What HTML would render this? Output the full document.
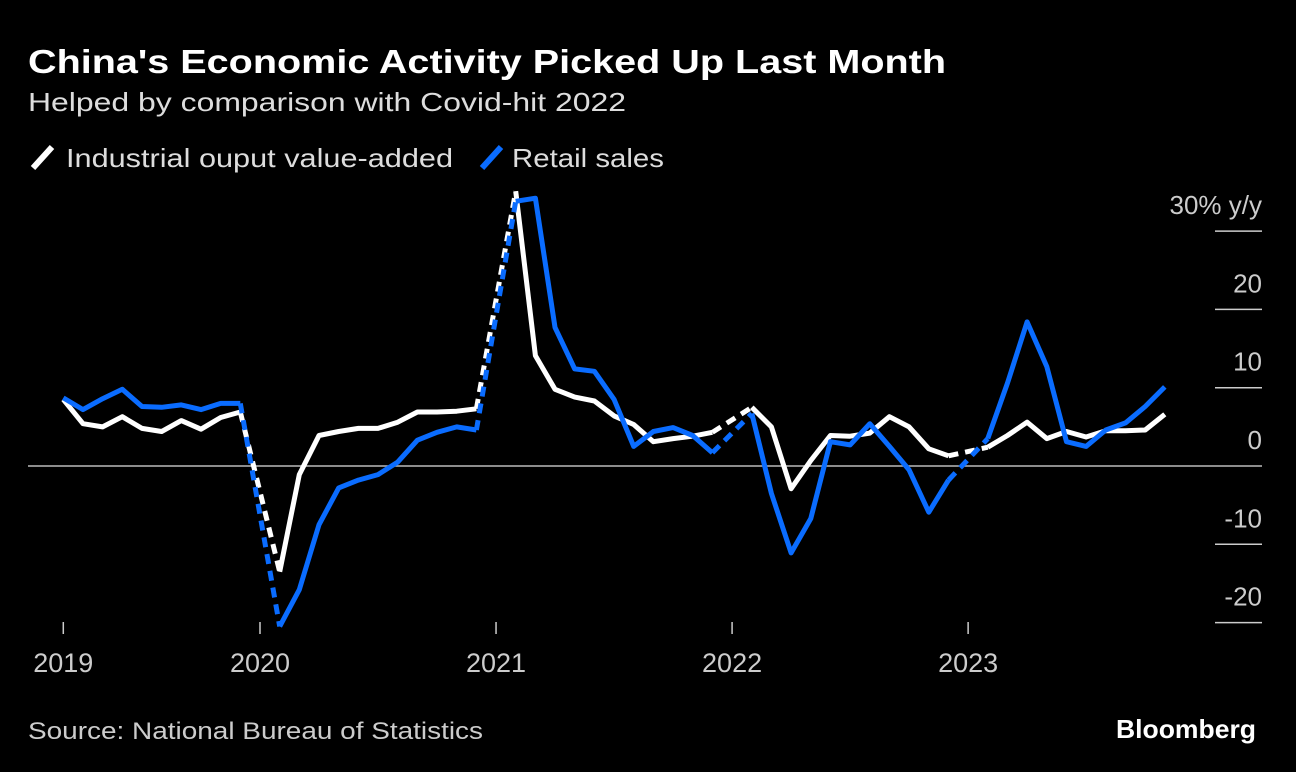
<!DOCTYPE html>
<html><head><meta charset="utf-8"><style>
body{margin:0;background:#000;}
svg{display:block;font-family:"Liberation Sans",sans-serif;}
</style></head><body>
<svg id="chart" width="1296" height="772" viewBox="0 0 1296 772">
<rect width="1296" height="772" fill="#000"/>
<text x="28" y="73" fill="#fff" font-size="33" font-weight="bold" textLength="918" lengthAdjust="spacingAndGlyphs">China's Economic Activity Picked Up Last Month</text>
<text x="28" y="111" fill="#ddd" font-size="26" textLength="598" lengthAdjust="spacingAndGlyphs">Helped by comparison with Covid-hit 2022</text>
<g>
<line x1="33" y1="168" x2="52" y2="147" stroke="#fff" stroke-width="6"/>
<text x="66" y="167" fill="#ddd" font-size="26" textLength="387" lengthAdjust="spacingAndGlyphs">Industrial ouput value-added</text>
<line x1="482" y1="168" x2="501" y2="147" stroke="#0a6cff" stroke-width="6"/>
<text x="512" y="167" fill="#ddd" font-size="26" textLength="152" lengthAdjust="spacingAndGlyphs">Retail sales</text>
</g>
<g id="axes"></g>
<g id="series"></g>
<text x="28" y="739" fill="#ccc" font-size="24" textLength="455" lengthAdjust="spacingAndGlyphs">Source: National Bureau of Statistics</text>
<text x="1256" y="738" fill="#fff" font-size="26" font-weight="bold" text-anchor="end" textLength="140" lengthAdjust="spacingAndGlyphs">Bloomberg</text>
</svg>
<script>
// months are offsets from Jan 2020
const months = [-10,-9,-8,-7,-6,-5,-4,-3,-2,-1, 1,2,3,4,5,6,7,8,9,10,11, 13,14,15,16,17,18,19,20,21,22,23, 25,26,27,28,29,30,31,32,33,34,35, 37,38,39,40,41,42,43,44,45,46,47];
const industrial = [8.5,5.4,5.0,6.3,4.8,4.4,5.8,4.7,6.2,6.9, -13.5,-1.1,3.9,4.4,4.8,4.8,5.6,6.9,6.9,7.0,7.3, 35.1,14.1,9.8,8.8,8.3,6.4,5.3,3.1,3.5,3.8,4.3, 7.5,5.0,-2.9,0.7,3.9,3.8,4.2,6.3,5.0,2.2,1.3, 2.4,3.9,5.6,3.5,4.4,3.7,4.5,4.5,4.6,6.6];
const retail = [8.7,7.2,8.6,9.8,7.6,7.5,7.8,7.2,8.0,8.0, -20.5,-15.8,-7.5,-2.8,-1.8,-1.1,0.5,3.3,4.3,5.0,4.6, 33.8,34.2,17.7,12.4,12.1,8.5,2.5,4.4,4.9,3.9,1.7, 6.7,-3.5,-11.1,-6.7,3.1,2.7,5.4,2.5,-0.5,-5.9,-1.8, 3.5,10.6,18.4,12.7,3.1,2.5,4.6,5.5,7.6,10.1];
const yTicks = [-20,-10,0,10,20,30];
const yTickLabels = ["-20","-10","0","10","20","30% y/y"];
const xTickMonths = [-10,0,12,24,36];
const xTickLabels = ["2019","2020","2021","2022","2023"];

const NS="http://www.w3.org/2000/svg";
const x = m => 260 + m*19.67;
const y = v => 466 - v*7.83;
const axes=document.getElementById('axes'), series=document.getElementById('series');
function mk(tag, attrs, parent){const e=document.createElementNS(NS,tag);for(const k in attrs)e.setAttribute(k,attrs[k]);parent.appendChild(e);return e;}

yTicks.forEach((t,i)=>{
  if(t!==0){
    const l=mk('line',{x1:1215,x2:1262,y1:y(t),y2:y(t),stroke:'#ccc','stroke-width':1.5},axes);
    
    
  }
  const tx=mk('text',{x:1262,y:y(t)-17,fill:'#ccc','font-size':26,'text-anchor':'end'},axes);
  tx.textContent=yTickLabels[i];
  
  
});
const z=mk('line',{x1:28,x2:1262,y1:y(0),y2:y(0),stroke:'#bbb','stroke-width':1.5},axes);


xTickMonths.forEach((m,i)=>{
  const l=mk('line',{x1:x(m),x2:x(m),y1:622,y2:634,stroke:'#ccc','stroke-width':1.5},axes);
  
  
  const tx=mk('text',{x:x(m),y:672,fill:'#ccc','font-size':27,'text-anchor':'middle'},axes);
  tx.textContent=xTickLabels[i];
  
  
});

function drawSeries(vals,color,name){
  let seg=[];
  const segs=[];
  for(let i=0;i<months.length;i++){
    if(i>0 && months[i]-months[i-1]>1){
      segs.push({pts:seg,dash:false});
      segs.push({pts:[[months[i-1],vals[i-1]],[months[i],vals[i]]],dash:true});
      seg=[];
    }
    seg.push([months[i],vals[i]]);
  }
  segs.push({pts:seg,dash:false});
  segs.forEach(s=>{
    const d=s.pts.map((p,j)=>(j?'L':'M')+x(p[0]).toFixed(1)+','+y(p[1]).toFixed(1)).join('');
    const a={d:d,fill:'none',stroke:color,'stroke-width':5,'stroke-linejoin':'round'};
    if(s.dash)a['stroke-dasharray']='10 7';
    const p=mk('path',a,series);
    
    
  });
}
drawSeries(industrial,'#ffffff','industrial-output');
drawSeries(retail,'#0a6cff','retail-sales');
</script>
</body></html>
